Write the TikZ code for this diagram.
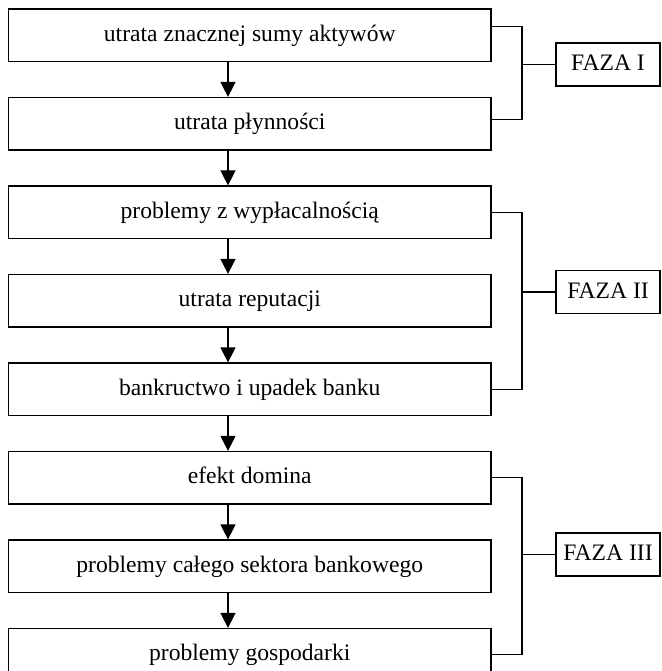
\documentclass[tikz,border=0pt]{standalone}
\usepackage{fontspec}
\setmainfont{Liberation Serif}
\usetikzlibrary{arrows.meta, positioning, shapes}
\tikzstyle{krok} = [rectangle, centered, draw, inner sep=0pt, text height=12pt, text depth=0pt, minimum height = 52.5pt, minimum width=482.5pt]
\tikzstyle{faza} = [krok, minimum height = 43pt, minimum width=104pt]
\tikzstyle{arrow} = [-{Triangle[length=15pt, width=15pt]}]

\begin{document}
\begin{tikzpicture}[x=1pt, y=1pt, node distance = 34.8pt, line width=1.2pt, font=\fontsize{23.6}{28}\selectfont]
\useasboundingbox (0,0) rectangle (661,-671);

\node(K1)[krok] at (249.75,-35.25) {utrata znacznej sumy aktywów};
\node(K2)[krok, below = of K1] {utrata płynności};
\node(K3)[krok, below = of K2] {problemy z wypłacalnością};
\node(K4)[krok, below = of K3] {utrata reputacji};
\node(K5)[krok, below = of K4] {bankructwo i upadek banku};
\node(K6)[krok, below = of K5] {efekt domina};
\node(K7)[krok, below = of K6] {problemy całego sektora bankowego};
\node(K8)[krok, below = of K7] {problemy gospodarki};

\node(F1)[faza] at (608,-64.5) {FAZA I};
\node(F2)[faza] at (608,-292) {FAZA II};
\node(F3)[faza] at (608,-554.5) {FAZA III};

\coordinate (J1) at (522,-64.5);
\coordinate (J2) at (522,-292);
\coordinate (J3) at (522,-554.5);

\draw [arrow] ([xshift=-21.75pt]K1.south) -- ([xshift=-21.75pt]K2.north);
\draw [arrow] ([xshift=-21.75pt]K2.south) -- ([xshift=-21.75pt]K3.north);
\draw [arrow] ([xshift=-21.75pt]K3.south) -- ([xshift=-21.75pt]K4.north);
\draw [arrow] ([xshift=-21.75pt]K4.south) -- ([xshift=-21.75pt]K5.north);
\draw [arrow] ([xshift=-21.75pt]K5.south) -- ([xshift=-21.75pt]K6.north);
\draw [arrow] ([xshift=-21.75pt]K6.south) -- ([xshift=-21.75pt]K7.north);
\draw [arrow] ([xshift=-21.75pt]K7.south) -- ([xshift=-21.75pt]K8.north);

\draw ([yshift=9pt]K1.east) -| (J1) |- ([yshift=4.5pt]K2.east);
\draw (J1) -- (F1);
\draw (K3.east) -| (J2) |- (K5.east);
\draw (J2) -- (F2);
\draw (K6.east) -| (J3) |- (K8.east);
\draw (J3) -- (F3);

\end{tikzpicture}
\end{document}
